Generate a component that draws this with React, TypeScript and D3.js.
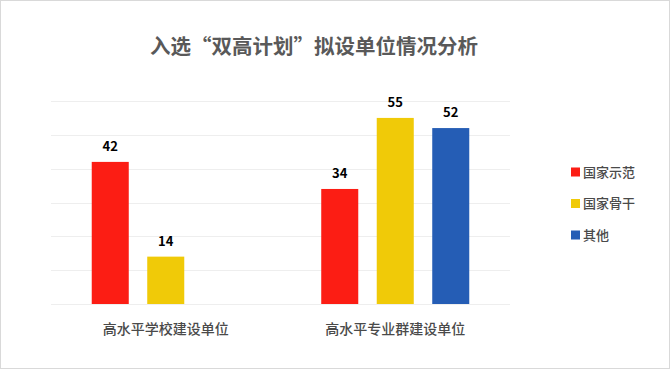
import React, { useEffect } from 'react';
import * as d3 from 'd3';

const categories = ['高水平学校建设单位', '高水平专业群建设单位'];
const seriesNames = ['国家示范', '国家骨干', '其他'];
const seriesColors = ['#FC1D14', '#F0CA08', '#255DB5'];
// values per series, one entry per category (null = no bar)
const shifan = [42, 34];
const gugan = [14, 55];
const qita: (number | null)[] = [null, 52];
const yTicks = [0, 10, 20, 30, 40, 50, 60];

const W = 670;
const H = 369;
const plot = { left: 51, right: 510, top: 101, bottom: 304 };
const cjk = '"Noto Sans CJK SC", "Microsoft YaHei", sans-serif';

const App: React.FC = () => {
  useEffect(() => {
    document.body.style.margin = '0';
  }, []);

  const values = [shifan, gugan, qita];

  const x0 = d3.scaleBand<string>().domain(categories).range([plot.left, plot.right]);
  const x1 = d3.scaleBand<string>()
    .domain(seriesNames)
    .range([0, x0.bandwidth()])
    .paddingInner(0.333)
    .paddingOuter(0.734);
  const y = d3.scaleLinear().domain([0, 60]).range([plot.bottom, plot.top]);

  return (
    <svg width={W} height={H} style={{ display: 'block', background: '#fff' }}>
      <rect x={0.5} y={0.5} width={W - 1} height={H - 1} fill="#fff" stroke="#d9d9d9" />
      <text x={314} y={54} textAnchor="middle" fontFamily={cjk} fontSize={20.5} fontWeight="bold" fill="#595959">
        入选“双高计划”拟设单位情况分析
      </text>

      {/* gridlines */}
      {yTicks.map(t => (
        <line key={t} x1={plot.left} x2={plot.right} y1={Math.round(y(t)) + 0.5} y2={Math.round(y(t)) + 0.5}
          stroke="#eeeeee" strokeWidth={1} />
      ))}

      {/* bars */}
      {categories.map((c, ci) => (
        <g key={c} transform={`translate(${x0(c)},0)`}>
          {seriesNames.map((s, si) => {
            const v = values[si][ci];
            if (v == null) return null;
            const bx = x1(s) as number;
            return (
              <g key={s}>
                <rect x={bx} y={y(v)} width={x1.bandwidth()} height={y(0) - y(v)} fill={seriesColors[si]} />
                <text x={bx + x1.bandwidth() / 2} y={y(v) - 11} textAnchor="middle"
                  fontFamily={cjk} fontSize={13} fontWeight="bold" fill="#000">
                  {v}
                </text>
              </g>
            );
          })}
        </g>
      ))}

      {/* category labels */}
      {categories.map(c => (
        <text key={c} x={(x0(c) as number) + x0.bandwidth() / 2} y={334} textAnchor="middle"
          fontFamily={cjk} fontSize={14} fontWeight={500} fill="#4a4a4a">
          {c}
        </text>
      ))}

      {/* legend */}
      {seriesNames.map((s, i) => (
        <g key={s} transform={`translate(571,${172 + i * 31.5})`}>
          <rect x={0} y={-4.5} width={9} height={9} fill={seriesColors[i]} />
          <text x={12} y={4.5} fontFamily={cjk} fontSize={13} fontWeight={500} fill="#4a4a4a">{s}</text>
        </g>
      ))}
    </svg>
  );
};

export default App;
